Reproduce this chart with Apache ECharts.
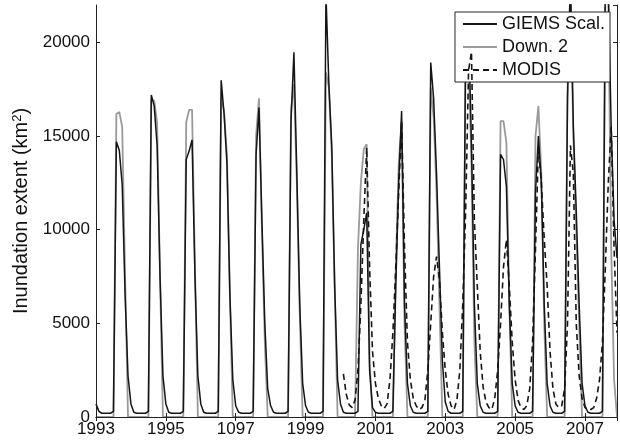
<!DOCTYPE html>
<html><head><meta charset="utf-8">
<script src="https://cdn.jsdelivr.net/npm/echarts@6/dist/echarts.min.js"></script>
<style>html,body{margin:0;padding:0;background:#fff}#c{width:620px;height:441px}</style>
</head><body><div id="c"></div>
<script>
// Monthly values, Jan 1993 .. Dec 2007
const startYear = 1993;
const giemsScal = [
  700, 300, 200, 200, 200, 200, 300, 14700, 14250, 12400, 6500, 2200,
  700, 250, 200, 200, 200, 200, 300, 17200, 16600, 14500, 7500, 2200,
  700, 250, 200, 200, 200, 200, 300, 13750, 14200, 14800, 7500, 2200,
  700, 250, 200, 200, 200, 200, 300, 17980, 16200, 13500, 6500, 2000,
  600, 250, 200, 200, 200, 200, 300, 14000, 16520, 10500, 5000, 1500,
  600, 250, 200, 200, 200, 200, 300, 15800, 19470, 13000, 6000, 1800,
  600, 250, 200, 200, 200, 200, 300, 22600, 17800, 14500, 7000, 2000,
  700, 250, 200, 200, 200, 200, 300, 9200, 10000, 10900, 2500, 500,
  250, 200, 200, 200, 200, 200, 300, 7000, 12500, 16340, 6000, 1800,
  600, 250, 200, 200, 200, 200, 300, 18930, 17000, 13000, 8000, 3000,
  800, 300, 200, 200, 200, 200, 300, 20000, 21000, 14500, 6000, 1800,
  600, 250, 200, 200, 200, 200, 300, 14020, 13750, 12300, 6000, 1800,
  600, 250, 200, 200, 200, 200, 300, 12000, 15000, 12500, 6000, 1800,
  600, 250, 200, 200, 200, 300, 17000, 23500, 15500, 11000, 6000, 1800,
  600, 250, 200, 200, 200, 200, 300, 23500, 23000, 15500, 10500, 8500
];
const down2 = [
  0, 0, 0, 0, 0, 0, 0, 16180, 16290, 15490, 7500, 0,
  0, 0, 0, 0, 0, 0, 0, 16970, 16880, 15720, 7500, 0,
  0, 0, 0, 0, 0, 0, 0, 15750, 16400, 16400, 8000, 0,
  0, 0, 0, 0, 0, 0, 0, 17100, 16300, 14000, 6500, 0,
  0, 0, 0, 0, 0, 0, 0, 15000, 17020, 10000, 4000, 0,
  0, 0, 0, 0, 0, 0, 0, 16400, 17770, 12500, 5500, 0,
  0, 0, 0, 0, 0, 0, 0, 18400, 17600, 14000, 7000, 0,
  0, 0, 0, 0, 0, 0, 9000, 12500, 14300, 14560, 3000, 0,
  0, 0, 0, 0, 0, 0, 0, 8000, 13500, 15800, 5000, 0,
  0, 0, 0, 0, 0, 0, 0, 17590, 16000, 12000, 6000, 0,
  0, 0, 0, 0, 0, 0, 0, 19500, 19000, 13500, 4000, 0,
  0, 0, 0, 0, 0, 0, 0, 15800, 15800, 14650, 6000, 0,
  0, 0, 0, 0, 0, 0, 0, 15000, 16610, 13000, 5000, 0,
  0, 0, 0, 0, 0, 0, 17500, 23000, 15000, 10000, 5000, 0,
  0, 0, 0, 0, 0, 0, 0, 23000, 22500, 9000, 2000, 0
];
// MODIS starts Feb 2000 (month index 85)
const modisStartIndex = 85;
const modis = [
  2300, 1200, 650, 500, 900, 2500, 6000, 10500, 14380, 8000, 3500,
  1800, 1000, 600, 450, 700, 2000, 4500, 8000, 12000, 15800, 9000, 4000,
  2000, 1000, 600, 400, 500, 900, 2500, 5000, 7500, 8570, 7300, 4500,
  2500, 1200, 600, 400, 900, 2500, 6000, 11000, 18500, 19500, 10500, 7000,
  3500, 1600, 800, 500, 400, 1000, 2500, 5000, 8000, 9470, 7000, 4000,
  2000, 900, 500, 400, 600, 1500, 4000, 9000, 14400, 12500, 9500, 7000,
  3500, 1500, 700, 500, 600, 1500, 5000, 14500, 13000, 5000, 2200, 1000,
  500, 400, 400, 500, 1000, 2000, 4000, 8000, 12500, 15500, 9000, 4500
];
const xTickValues = [1993, 1995, 1997, 1999, 2001, 2003, 2005, 2007];
const xTickLabels = ['1993', '1995', '1097', '1999', '2001', '2003', '2005', '2007'];
const yTickValues = [0, 5000, 10000, 15000, 20000];
const seriesNames = ['GIEMS Scal.', 'Down. 2', 'MODIS'];

const toPairs = (arr, offset) => arr.map((v, k) => [startYear + (k + offset) / 12, v]);
const xMax = startYear + (giemsScal.length - 1) / 12;
const font = "'Liberation Sans', Arial, Helvetica, sans-serif";

const xLabel = v => {
  const k = xTickValues.findIndex(t => Math.abs(t - v) < 1e-6);
  return k >= 0 ? xTickLabels[k] : '';
};
const yLabel = v => yTickValues.indexOf(v) >= 0 ? String(v) : '';

const frameLine = { show: true, lineStyle: { color: '#222', width: 1 } };
const tickIn = { show: true, inside: true, length: 4, lineStyle: { color: '#222', width: 1 } };

const chart = echarts.init(document.getElementById('c'), null, { renderer: 'canvas' });
chart.setOption({
  animation: false,
  backgroundColor: '#fff',
  grid: { left: 96, right: 3, top: 5, bottom: 24, containLabel: false },
  legend: {
    data: seriesNames,
    orient: 'vertical',
    right: 10, top: 12,
    itemWidth: 34, itemHeight: 16, itemGap: 5,
    padding: [3, 5, 3, 7],
    backgroundColor: '#fff',
    borderColor: '#222', borderWidth: 1,
    itemStyle: { opacity: 0 },
    textStyle: { fontFamily: font, fontSize: 18, color: '#111' }
  },
  xAxis: [
    { type: 'value', min: startYear, max: xMax, interval: 2, position: 'bottom', z: 5,
      axisLine: frameLine, axisTick: tickIn, splitLine: { show: false },
      axisLabel: { formatter: xLabel, showMaxLabel: false, margin: 4, fontFamily: font, fontSize: 17, color: '#111' } },
    { type: 'value', min: startYear, max: xMax, interval: 2, position: 'top', z: 5,
      axisLine: frameLine, axisTick: tickIn, splitLine: { show: false }, axisLabel: { show: false } }
  ],
  yAxis: [
    { type: 'value', min: 0, max: 22000, interval: 5000, position: 'left', z: 5,
      axisLine: frameLine, axisTick: tickIn, splitLine: { show: false },
      axisLabel: { formatter: yLabel, showMaxLabel: false, margin: 6, fontFamily: font, fontSize: 17, color: '#111' },
      name: '{a|Inundation extent (km}{s|2}{a|)}',
      nameLocation: 'middle', nameGap: 58, nameRotate: 90,
      nameTextStyle: { rich: {
        a: { fontFamily: font, fontSize: 20, color: '#111' },
        s: { fontFamily: font, fontSize: 13, color: '#111', verticalAlign: 'top', padding: [0, 0, 9, 0] }
      } } },
    { type: 'value', min: 0, max: 22000, interval: 5000, position: 'right', z: 5,
      axisLine: frameLine, axisTick: tickIn, splitLine: { show: false }, axisLabel: { show: false } }
  ],
  series: [
    { name: seriesNames[1], type: 'line', data: toPairs(down2, 0), symbol: 'none', z: 2,
      lineStyle: { color: '#9a9a9a', width: 1.8 }, itemStyle: { color: '#9a9a9a' } },
    { name: seriesNames[0], type: 'line', data: toPairs(giemsScal, 0), symbol: 'none', z: 3,
      lineStyle: { color: '#151515', width: 1.5 }, itemStyle: { color: '#151515' } },
    { name: seriesNames[2], type: 'line', data: toPairs(modis, modisStartIndex), symbol: 'none', z: 4,
      lineStyle: { color: '#151515', width: 1.6, type: [6, 4] }, itemStyle: { color: '#151515' } }
  ]
});
</script></body></html>
